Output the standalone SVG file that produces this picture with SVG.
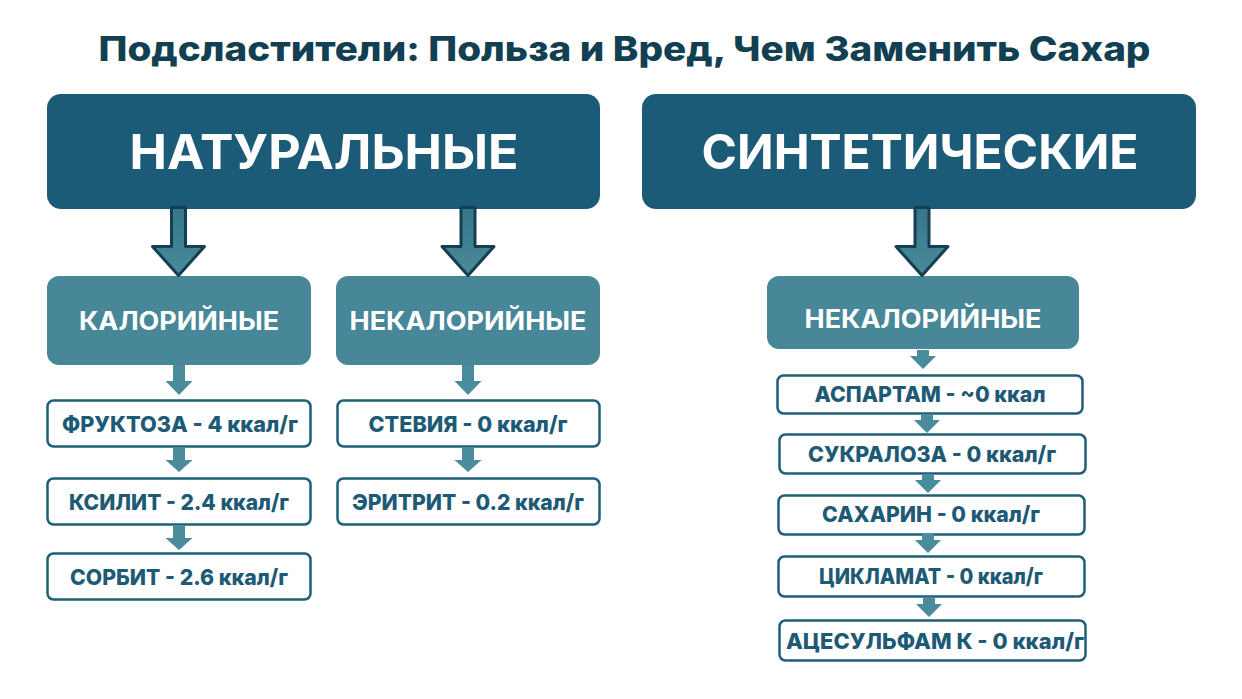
<svg xmlns="http://www.w3.org/2000/svg" width="1242" height="699" viewBox="0 0 1242 699">
<defs>
<linearGradient id="ga" x1="0" y1="0" x2="0" y2="1"><stop offset="0" stop-color="#35768a"/><stop offset="1" stop-color="#4a8a9a"/></linearGradient>
<path id="big" d="M-7,-34H7V5H26L0,34L-26,5H-7Z" fill="url(#ga)" stroke="#143f52" stroke-width="3" stroke-linejoin="round"/>
<path id="small" d="M-6,-15H6V1H13.500L0,15L-13.500,1H-6Z" fill="#4a8b9c"/>
<path id="short" d="M-6,-12H6V1H13.500L0,13L-13.500,1H-6Z" fill="#4a8b9c"/>
<path id="tiny" d="M-6,-10H6V-4H13L0,9L-13,-4H-6Z" fill="#4a8b9c"/>
</defs>
<style>
text{font-family:"Inter","Open Sans","Liberation Sans",sans-serif;font-weight:800;text-anchor:middle}
.big{fill:#1b5b78}
.mid{fill:#478798}
.item{fill:#fff;stroke:#1f5f7a;stroke-width:2.5}
.tt{fill:#123f52;font-size:34px}
.bt{fill:#fff;font-size:48px;font-weight:700}
.mt{fill:#fff;font-size:25px;font-weight:700}
.it{fill:#1d5a75;font-size:22px}
</style>
<rect width="1242" height="699" fill="#fff"/>
<text class="tt" x="624.5" y="61" textLength="1052" lengthAdjust="spacingAndGlyphs">Подсластители: Польза и Вред, Чем Заменить Сахар</text>
<g id="natural"><rect class="big" x="47" y="94" width="553" height="115" rx="14"/><text class="bt" x="324" y="169" textLength="389" lengthAdjust="spacingAndGlyphs">НАТУРАЛЬНЫЕ</text></g>
<g id="synthetic"><rect class="big" x="642" y="94" width="554" height="115" rx="14"/><text class="bt" x="920" y="169" textLength="437" lengthAdjust="spacingAndGlyphs">СИНТЕТИЧЕСКИЕ</text></g>
<g id="caloric"><rect class="mid" x="47" y="276" width="264" height="89" rx="12"/><text class="mt" x="179" y="330" textLength="200" lengthAdjust="spacingAndGlyphs">КАЛОРИЙНЫЕ</text></g>
<g id="noncaloric-natural"><rect class="mid" x="336" y="276" width="264" height="89" rx="12"/><text class="mt" x="468" y="330" textLength="237" lengthAdjust="spacingAndGlyphs">НЕКАЛОРИЙНЫЕ</text></g>
<g id="noncaloric-synthetic"><rect class="mid" x="767" y="276" width="312" height="73" rx="12"/><text class="mt" x="923" y="328" textLength="237" lengthAdjust="spacingAndGlyphs">НЕКАЛОРИЙНЫЕ</text></g>
<g id="fructose"><rect class="item" x="47.500" y="400.500" width="263" height="46" rx="6"/><text class="it" x="180" y="432" textLength="236" lengthAdjust="spacingAndGlyphs">ФРУКТОЗА - 4 ккал/г</text></g>
<g id="xylitol"><rect class="item" x="47.500" y="478.500" width="263" height="46" rx="6"/><text class="it" x="179" y="510" textLength="220" lengthAdjust="spacingAndGlyphs">КСИЛИТ - 2.4 ккал/г</text></g>
<g id="sorbitol"><rect class="item" x="47.500" y="553.500" width="263" height="46" rx="6"/><text class="it" x="179" y="585" textLength="218" lengthAdjust="spacingAndGlyphs">СОРБИТ - 2.6 ккал/г</text></g>
<g id="stevia"><rect class="item" x="337.500" y="400.500" width="262" height="46" rx="6"/><text class="it" x="468" y="432" textLength="199" lengthAdjust="spacingAndGlyphs">СТЕВИЯ - 0 ккал/г</text></g>
<g id="erythritol"><rect class="item" x="337.500" y="478.500" width="262" height="46" rx="6"/><text class="it" x="468" y="510" textLength="232" lengthAdjust="spacingAndGlyphs">ЭРИТРИТ - 0.2 ккал/г</text></g>
<g id="aspartame"><rect class="item" x="777.500" y="375.500" width="305" height="38" rx="6"/><text class="it" x="930" y="402" textLength="231" lengthAdjust="spacingAndGlyphs">АСПАРТАМ - ~0 ккал</text></g>
<g id="sucralose"><rect class="item" x="779.500" y="434.500" width="306" height="39" rx="6"/><text class="it" x="932" y="462" textLength="248" lengthAdjust="spacingAndGlyphs">СУКРАЛОЗА - 0 ккал/г</text></g>
<g id="saccharin"><rect class="item" x="778.500" y="495.500" width="306" height="39" rx="6"/><text class="it" x="931" y="522" textLength="218" lengthAdjust="spacingAndGlyphs">САХАРИН - 0 ккал/г</text></g>
<g id="cyclamate"><rect class="item" x="778.500" y="556.500" width="306" height="40" rx="6"/><text class="it" x="931" y="584" textLength="224" lengthAdjust="spacingAndGlyphs">ЦИКЛАМАТ - 0 ккал/г</text></g>
<g id="acesulfame"><rect class="item" x="779.500" y="620.500" width="306" height="40" rx="6"/><text class="it" x="935" y="649" textLength="298" lengthAdjust="spacingAndGlyphs">АЦЕСУЛЬФАМ К - 0 ккал/г</text></g>
<g id="connectors">
<use href="#big" x="178.500" y="241.500"/>
<use href="#big" x="468" y="241.500"/>
<use href="#big" x="922" y="241.500"/>
<use href="#small" x="179" y="380"/>
<use href="#short" x="179" y="459"/>
<use href="#short" x="179" y="537"/>
<use href="#small" x="468" y="380"/>
<use href="#short" x="468" y="459"/>
<use href="#tiny" x="923" y="360"/>
<use href="#tiny" x="927" y="424"/>
<use href="#tiny" x="928" y="484"/>
<use href="#tiny" x="928" y="544"/>
<use href="#tiny" x="929" y="608"/>
</g>
</svg>
